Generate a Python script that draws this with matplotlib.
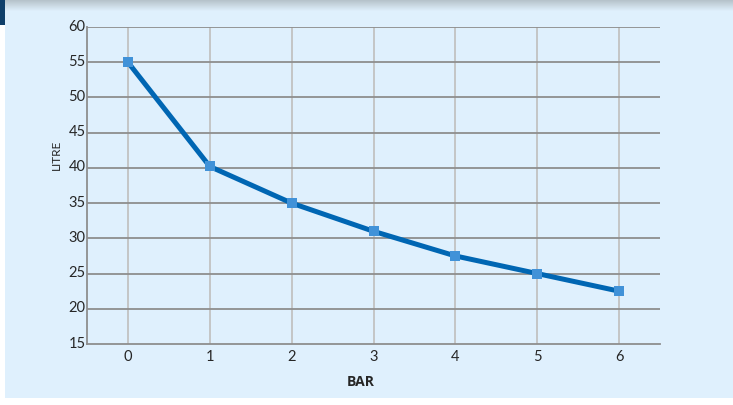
import matplotlib.pyplot as plt
import matplotlib.transforms as mtransforms
import numpy as np
from matplotlib.patches import Rectangle

# --- Data ---
bar = [0, 1, 2, 3, 4, 5, 6]
litre = [55, 40.2, 35, 31, 27.5, 25, 22.5]
y_ticks = [15, 20, 25, 30, 35, 40, 45, 50, 55, 60]

W, H = 733, 405
fig = plt.figure(figsize=(W / 100, H / 100), dpi=100)
fig.patch.set_facecolor("white")
plt.rcParams["font.family"] = ["Lato", "DejaVu Sans"]

# panel background (behind the axes)
fig.patches.append(Rectangle((5 / W, 7 / H), 1 - 5 / W, 1 - 7 / H,
                             transform=fig.transFigure, facecolor="#dff0fd",
                             edgecolor="none", zorder=-2))
# dark strip top-left
fig.patches.append(Rectangle((0, 1 - 25 / H), 5 / W, 25 / H,
                             transform=fig.transFigure, facecolor="#0f3f6a",
                             edgecolor="none", zorder=-1))

# shadow gradient along the top
gax = fig.add_axes([5 / W, 1 - 11 / H, 1 - 5 / W, 11 / H])
top = np.array([0.71, 0.76, 0.79])
bot = np.array([0.875, 0.94, 0.99])
t = np.linspace(0, 1, 50)[:, None]
grad = top * (1 - t) + bot * t
gax.imshow(grad[:, None, :], aspect="auto", extent=[0, 1, 0, 1])
gax.axis("off")

ax = fig.add_axes([87 / W, 1 - 344 / H, 573 / W, 317 / H])
ax.set_facecolor("none")

ax.plot(bar, litre, color="#0066b3", linewidth=3.6, zorder=3,
        marker="s", markersize=7, markeredgewidth=0,
        markerfacecolor="#4192d8")

ax.set_xlim(-0.5, 6.5)
ax.set_ylim(15, 60)
ax.set_xticks(bar)
ax.set_yticks(y_ticks)

for y in y_ticks[1:]:
    ax.axhline(y, color="#8e8e8e", linewidth=1.3, zorder=1)
for x in bar:
    ax.axvline(x, color="#c2c2c2", linewidth=1.3, zorder=0.5)

for side in ["top", "right"]:
    ax.spines[side].set_visible(False)
for side in ["left", "bottom"]:
    ax.spines[side].set_color("#8e8e8e")
    ax.spines[side].set_linewidth(1.3)

ax.tick_params(axis="both", length=0, labelsize=10.5, labelcolor="#262626")
ax.tick_params(axis="y", pad=1)
ax.tick_params(axis="x", pad=4)

# y tick labels sit a little above their gridlines
shift = mtransforms.ScaledTranslation(0, 2 / 100, fig.dpi_scale_trans)
for lab in ax.get_yticklabels():
    lab.set_transform(lab.get_transform() + shift)

ax.text(0.478, -0.119, "BAR", transform=ax.transAxes, ha="center", va="center",
        fontsize=10, fontweight="bold", color="#262626",
        family=["Open Sans", "DejaVu Sans"])
ax.text(-0.054, 0.596, "LITRE", transform=ax.transAxes, ha="center", va="center",
        rotation=90, fontsize=8.5, color="#262626")

fig.savefig("out.png", dpi=100)
